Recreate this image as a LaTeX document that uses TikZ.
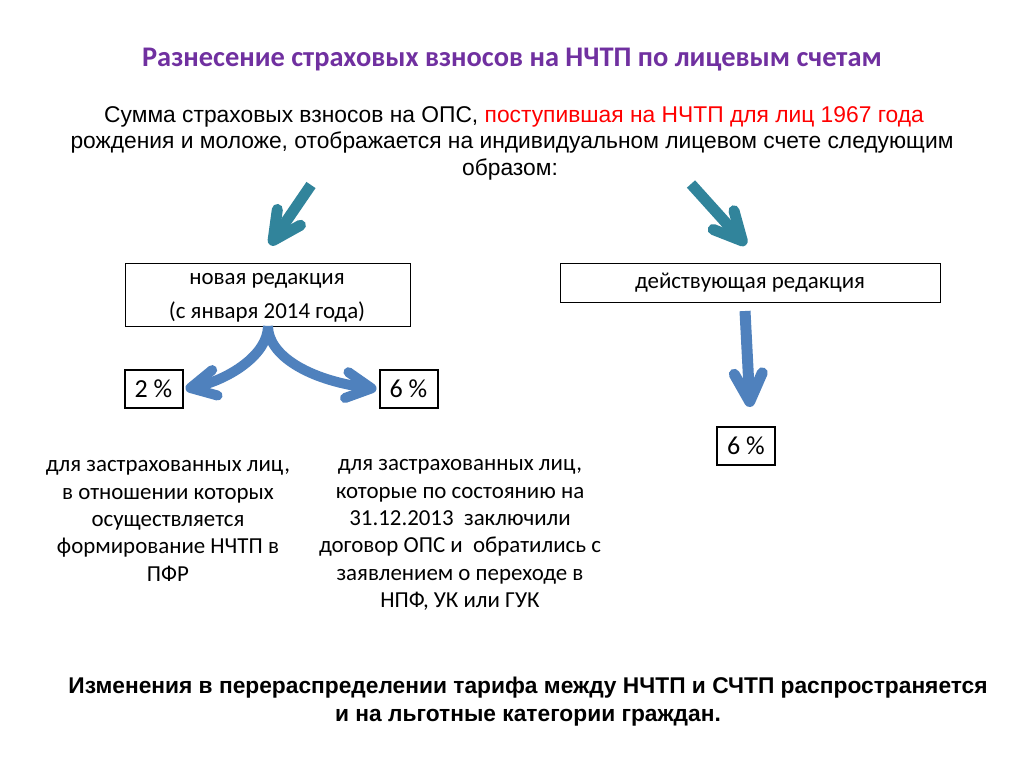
\documentclass[tikz,border=0pt]{standalone}
\usepackage{fontspec}
\setmainfont{Carlito}
\newfontfamily\arialf{Liberation Sans}
\usetikzlibrary{arrows.meta}
\definecolor{ttl}{HTML}{7030A0}
\definecolor{tealc}{HTML}{31849B}
\definecolor{bluec}{HTML}{4F81BD}
\definecolor{redc}{HTML}{FF0000}
\tikzset{
  box/.style={draw=black, line width=0.9pt, fill=white, inner sep=0pt},
  pbox/.style={draw=black, line width=2pt, fill=white, inner sep=0pt, minimum width=58pt, minimum height=38pt, font=\fontsize{26}{30}\selectfont},
  para/.style={font=\arialf\fontsize{22.8}{26}\selectfont, inner sep=0pt},
  btxt/.style={font=\fontsize{22.9}{26}\selectfont, inner sep=0pt},
  desc/.style={align=center, font=\fontsize{22.9}{27.4}\selectfont, inner sep=0pt},
  tealarrow/.style={draw=tealc, line width=11pt, -{Straight Barb[round, length=28pt, width=28pt]}},
  bluearrow/.style={draw=bluec, line width=10pt, -{Straight Barb[round, length=25pt, width=26pt]}},
  vbluearrow/.style={draw=bluec, line width=11pt, -{Straight Barb[round, length=28pt, width=28pt]}},
}
\begin{document}
\begin{tikzpicture}[x=1pt,y=-1pt]
\useasboundingbox[fill=white] (0,0) rectangle (1024,768);
% title
\node[font=\fontsize{28.4}{32}\selectfont\bfseries, text=ttl, inner sep=0pt] (title) at (512,60) {Разнесение страховых взносов на НЧТП по лицевым счетам};
% paragraph
\node[para] (p1) at (514,117) {Сумма страховых взносов на ОПС, \textcolor{redc}{поступившая на НЧТП для лиц 1967 года}};
\node[para] (p2) at (512,143) {рождения и моложе, отображается на индивидуальном лицевом счете следующим};
\node[para] (p3) at (510,170) {образом:};
% boxes
\node[box, minimum width=285pt, minimum height=63pt] (newr) at (267.5,294.5) {};
\node[btxt] (newt1) at (267,281) {новая редакция};
\node[btxt] (newt2) at (267,312) {(с января 2014 года)};
\node[box, minimum width=380pt, minimum height=39pt, font=\fontsize{22.9}{26}\selectfont] (cur) at (750,282.5) {действующая редакция};
\node[pbox] (pa) at (153.5,389) {2 \%};
\node[pbox] (pb) at (408.5,389) {6 \%};
\node[pbox] (pc) at (746,445.5) {6 \%};
% descriptions
\node[desc] (da) at (168,521) {для застрахованных лиц,\\в отношении которых\\осуществляется\\формирование НЧТП в\\ПФР};
\node[desc] (db) at (460,535) {для застрахованных лиц,\\которые по состоянию на\\31.12.2013\ \ заключили\\договор ОПС и\ \ обратились с\\заявлением о переходе в\\НПФ, УК или ГУК};
% bottom
\node[font=\arialf\bfseries\fontsize{22.75}{28}\selectfont, align=center, inner sep=0pt] (bottom) at (528,702) {Изменения в перераспределении тарифа между НЧТП и СЧТП распространяется\\и на льготные категории граждан.};
% teal arrows
\coordinate (ta1) at (311,185);
\coordinate (ta2) at (270,245);
\coordinate (tb1) at (691,184);
\coordinate (tb2) at (746,245);
\draw[tealarrow] (ta1) -- (ta2);
\draw[tealarrow] (tb1) -- (tb2);
% blue curved arrows
\coordinate (bs) at (268,326);
\draw[bluearrow] (bs) .. controls (268,355) and (228,380) .. ([xshift=2pt]pa.east);
\draw[bluearrow] (bs) .. controls (268,355) and (308,380) .. ([xshift=-2pt]pb.west);
\coordinate (bv1) at (745,311);
\coordinate (bv2) at (750,407);
\draw[vbluearrow] (bv1) -- (bv2);
\end{tikzpicture}
\end{document}
